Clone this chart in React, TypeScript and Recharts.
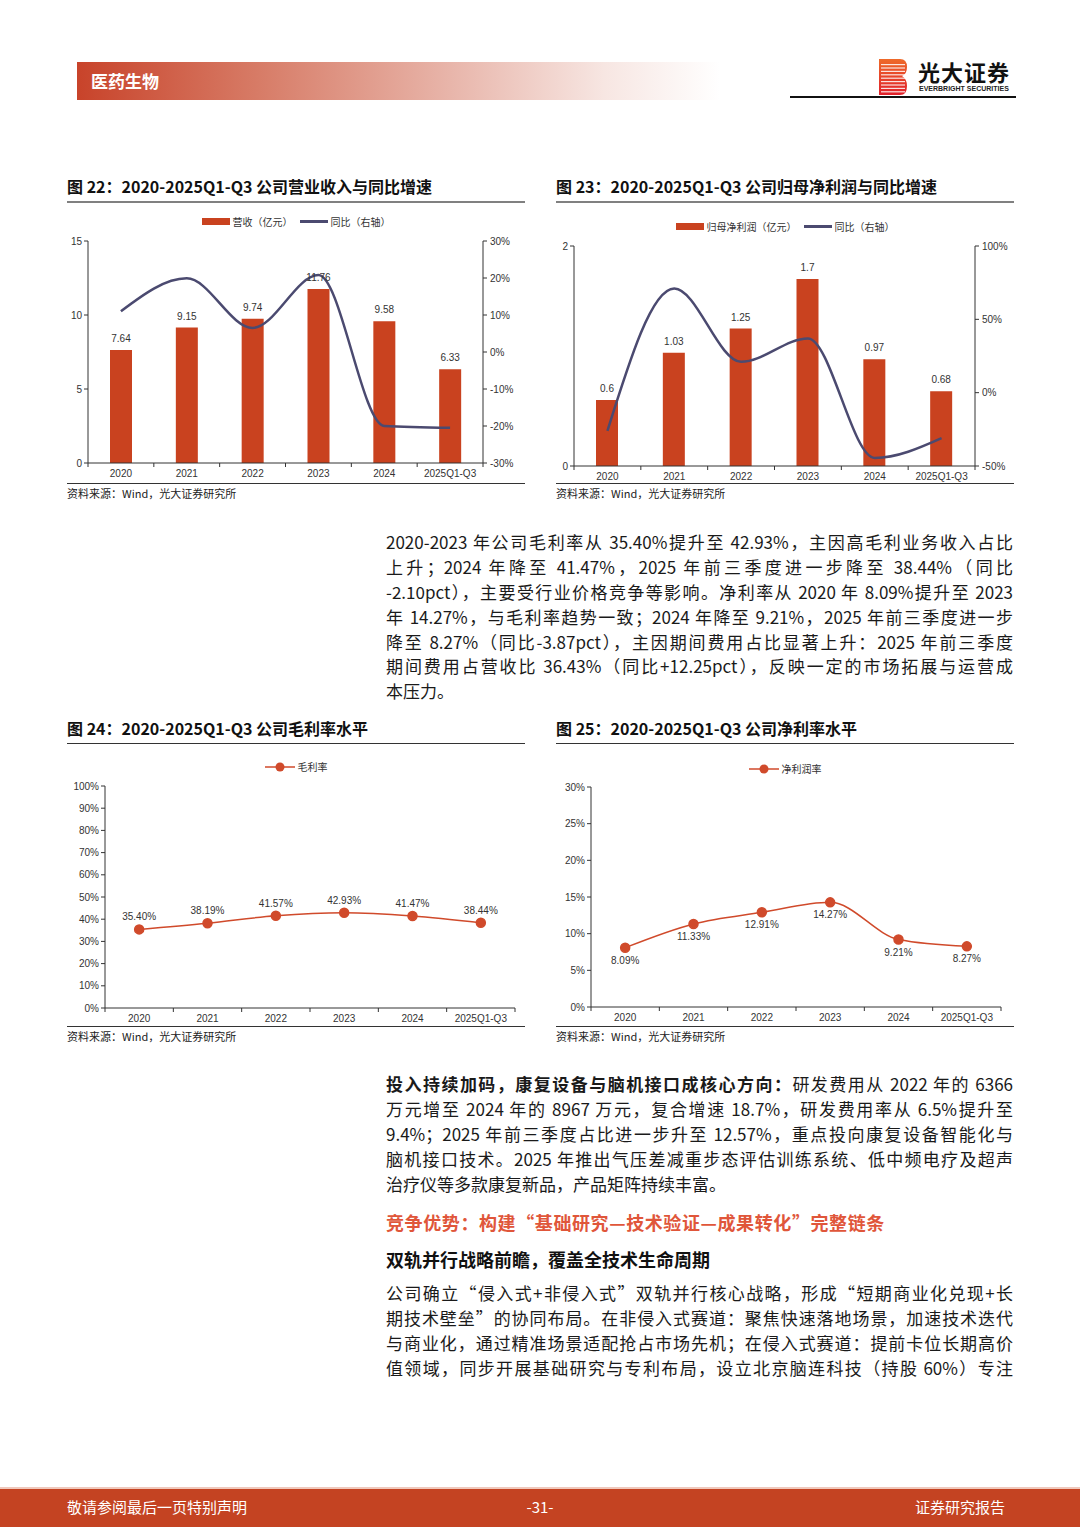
import React from "react";
import { ComposedChart, Bar, Line, XAxis, YAxis, LabelList } from "recharts";

// 数据
const years = ["2020", "2021", "2022", "2023", "2024", "2025Q1-Q3"];
const revenue = [7.64, 9.15, 9.74, 11.76, 9.58, 6.33];
const revenueYoy = [11.0, 19.9, 6.5, 20.8, -20.0, -20.5];
const netProfit = [0.6, 1.03, 1.25, 1.7, 0.97, 0.68];
const netProfitYoy = [-26.0, 71.0, 21.0, 37.0, -44.5, -31.0];
const grossMargin = [35.4, 38.19, 41.57, 42.93, 41.47, 38.44];
const netMargin = [8.09, 11.33, 12.91, 14.27, 9.21, 8.27];

const revenueTicks = [0, 5, 10, 15];
const revenueYoyTicks = [-30, -20, -10, 0, 10, 20, 30];
const profitTicks = [0, 2];
const profitYoyTicks = [-50, 0, 50, 100];
const grossTicks = [0, 10, 20, 30, 40, 50, 60, 70, 80, 90, 100];
const netTicks = [0, 5, 10, 15, 20, 25, 30];

const revenueData = years.map((year, i) => ({ year, value: revenue[i], yoy: revenueYoy[i] }));
const profitData = years.map((year, i) => ({ year, value: netProfit[i], yoy: netProfitYoy[i] }));
const grossData = years.map((year, i) => ({ year, value: grossMargin[i] }));
const netData = years.map((year, i) => ({ year, value: netMargin[i] }));

const RED = "#c9421f";
const LINE_RED = "#d04a2b";
const NAVY = "#4b4a70";
const CJK = '"Noto Sans CJK SC", "Noto Sans", sans-serif';
const CHART_FONT = '"Liberation Sans", Arial, "Noto Sans CJK SC", sans-serif';
const TICK_SIZE = 4;
const TICK_MARGIN = 3;

const tickStyle = { fontSize: 10, fill: "#333", fontFamily: CHART_FONT };
const pct = (v: number) => `${v}%`;

// 类目轴：刻度线画在类目边界上
function YearTick(props: any) {
  const { x, y, payload, index, visibleTicksCount } = props;
  const half = payload.offset || 0;
  const axisY = y - TICK_SIZE - TICK_MARGIN;
  return (
    <g>
      <line x1={x - half} x2={x - half} y1={axisY} y2={axisY + 4} stroke="#333" />
      {index === visibleTicksCount - 1 && (
        <line x1={x + half} x2={x + half} y1={axisY} y2={axisY + 4} stroke="#333" />
      )}
      <text x={x} y={y} dy="0.71em" textAnchor="middle" {...tickStyle}>
        {payload.value}
      </text>
    </g>
  );
}

function xAxis() {
  return (
    <XAxis
      dataKey="year"
      scale="band"
      height={20}
      tickLine={false}
      tickSize={TICK_SIZE}
      tickMargin={TICK_MARGIN}
      axisLine={{ stroke: "#333" }}
      tick={<YearTick />}
      interval={0}
    />
  );
}

function BarLegend({ label }: { label: string }) {
  return (
    <div style={{ display: "flex", alignItems: "center", justifyContent: "center", gap: 3, fontSize: 10, color: "#333", fontFamily: CJK }}>
      <span style={{ width: 28, height: 7, background: RED, display: "inline-block" }} />
      <span>{label}</span>
      <span style={{ width: 28, height: 3, background: NAVY, display: "inline-block", marginLeft: 4 }} />
      <span>同比（右轴）</span>
    </div>
  );
}

function DotLegend({ label }: { label: string }) {
  return (
    <div style={{ display: "flex", alignItems: "center", justifyContent: "center", gap: 3, fontSize: 10, color: "#333", fontFamily: CJK }}>
      <svg width={30} height={10}>
        <line x1={0} x2={30} y1={5} y2={5} stroke={LINE_RED} strokeWidth={1.5} />
        <circle cx={15} cy={5} r={4.5} fill={LINE_RED} />
      </svg>
      <span>{label}</span>
    </div>
  );
}

function Title({ left, top, text, thick }: { left: number; top: number; text: string; thick?: boolean }) {
  return (
    <>
      <div style={{ position: "absolute", left, top, fontSize: 16, fontWeight: 700, color: "#111", fontFamily: CJK, whiteSpace: "nowrap", lineHeight: "20px" }}>
        {text}
      </div>
      <div style={{ position: "absolute", left, top: top + 25, width: 458, height: thick ? 2 : 1, background: thick ? "#808080" : "#333" }} />
    </>
  );
}

function Source({ left, top }: { left: number; top: number }) {
  return (
    <>
      <div style={{ position: "absolute", left, top, width: 458, height: 1, background: "#333" }} />
      <div style={{ position: "absolute", left, top: top + 2, fontSize: 11, color: "#222", fontFamily: CJK, lineHeight: "16px" }}>
        资料来源：Wind，光大证券研究所
      </div>
    </>
  );
}

function Paragraph({ top, lines, lastFree = true }: { top: number; lines: React.ReactNode[]; lastFree?: boolean }) {
  return (
    <div style={{ position: "absolute", left: 386, top, width: 627, fontSize: 17, color: "#1a1a1a", fontFamily: CJK }}>
      {lines.map((ln, i) => (
        <div
          key={i}
          style={{
            height: 24.9,
            lineHeight: "24.9px",
            whiteSpace: "nowrap",
            textAlign: "justify",
            textAlignLast: lastFree && i === lines.length - 1 ? "left" : "justify",
          }}
        >
          {ln}
        </div>
      ))}
    </div>
  );
}

const para1 = [
  "2020-2023 年公司毛利率从 35.40%提升至 42.93%，主因高毛利业务收入占比",
  "上升；2024  年降至  41.47%，2025  年前三季度进一步降至  38.44%（同比",
  "-2.10pct），主要受行业价格竞争等影响。净利率从 2020 年 8.09%提升至 2023",
  "年 14.27%，与毛利率趋势一致；2024 年降至 9.21%，2025 年前三季度进一步",
  "降至 8.27%（同比-3.87pct），主因期间费用占比显著上升：2025 年前三季度",
  "期间费用占营收比  36.43%（同比+12.25pct），反映一定的市场拓展与运营成",
  "本压力。",
];

const para2 = [
  <>
    <b>投入持续加码，康复设备与脑机接口成核心方向：</b>研发费用从 2022 年的 6366
  </>,
  "万元增至 2024 年的 8967 万元，复合增速 18.7%，研发费用率从 6.5%提升至",
  "9.4%；2025 年前三季度占比进一步升至 12.57%，重点投向康复设备智能化与",
  "脑机接口技术。2025 年推出气压差减重步态评估训练系统、低中频电疗及超声",
  "治疗仪等多款康复新品，产品矩阵持续丰富。",
];

const para3 = [
  "公司确立“侵入式+非侵入式”双轨并行核心战略，形成“短期商业化兑现+长",
  "期技术壁垒”的协同布局。在非侵入式赛道：聚焦快速落地场景，加速技术迭代",
  "与商业化，通过精准场景适配抢占市场先机；在侵入式赛道：提前卡位长期高价",
  "值领域，同步开展基础研究与专利布局，设立北京脑连科技（持股  60%）专注",
];

function Logo() {
  const stripes = [];
  for (let i = 0; i < 9; i++) {
    stripes.push(<rect key={i} x={3} y={6 + i * 3.4} width={24} height={1.2} fill="#fff" opacity={0.85} />);
  }
  return (
    <>
      <svg style={{ position: "absolute", left: 878, top: 58 }} width={30} height={38}>
        <defs>
          <linearGradient id="lg" x1="0" y1="0" x2="0" y2="1">
            <stop offset="0" stopColor="#ee6a2a" />
            <stop offset="1" stopColor="#e01f2a" />
          </linearGradient>
        </defs>
        <path d="M1 1 H22 Q29 1 29 9 Q29 16 24 18 Q29 21 29 28 Q29 37 22 37 H1 Z" fill="url(#lg)" />
        {stripes}
      </svg>
      <div style={{ position: "absolute", left: 918, top: 58, fontSize: 22, fontWeight: 700, color: "#111", fontFamily: CJK, lineHeight: "27px", letterSpacing: 1 }}>
        光大证券
      </div>
      <div style={{ position: "absolute", left: 919, top: 85, fontSize: 7, fontWeight: 700, color: "#222", fontFamily: CHART_FONT, lineHeight: "8px" }}>
        EVERBRIGHT SECURITIES
      </div>
      <div style={{ position: "absolute", left: 790, top: 96, width: 226, height: 1.5, background: "#111" }} />
    </>
  );
}

const marginLabel = (v: any) => `${Number(v).toFixed(2)}%`;
const labelStyle = { fontSize: 10, fill: "#333", fontFamily: CHART_FONT };
const axisProps = { tick: tickStyle, tickSize: TICK_SIZE, axisLine: { stroke: "#333" }, tickLine: { stroke: "#333" } };

export default function App() {
  return (
    <div style={{ position: "absolute", left: 0, top: 0, width: 1080, height: 1527, background: "#fff", overflow: "hidden", fontFamily: CJK }}>
      {/* 页眉 */}
      <div
        style={{
          position: "absolute",
          left: 77,
          top: 62,
          width: 643,
          height: 38,
          background: "linear-gradient(to right, #c8432a 0%, #d77b66 28%, #e8b5aa 58%, #f7e6e2 82%, #ffffff 100%)",
        }}
      />
      <div style={{ position: "absolute", left: 91, top: 69, fontSize: 17, fontWeight: 700, color: "#fff", lineHeight: "24px" }}>医药生物</div>
      <Logo />

      {/* 图 22 */}
      <Title left={67} top={176} text="图 22：2020-2025Q1-Q3 公司营业收入与同比增速" thick />
      <div style={{ position: "absolute", left: 67, top: 214, width: 458 }}>
        <BarLegend label="营收（亿元）" />
      </div>
      <div style={{ position: "absolute", left: 67, top: 205 }}>
        <ComposedChart width={458} height={278} data={revenueData} margin={{ top: 36, right: 0, left: 0, bottom: 0 }}>
          {xAxis()}
          <YAxis yAxisId="left" width={21} domain={[0, 15]} ticks={revenueTicks} tickMargin={2} {...axisProps} />
          <YAxis yAxisId="right" orientation="right" width={42} domain={[-30, 30]} ticks={revenueYoyTicks} tickFormatter={pct} tickMargin={3} {...axisProps} />
          <Bar yAxisId="left" dataKey="value" fill={RED} barSize={22} isAnimationActive={false}>
            <LabelList dataKey="value" position="top" offset={8} style={labelStyle} />
          </Bar>
          <Line yAxisId="right" type="monotone" dataKey="yoy" stroke={NAVY} strokeWidth={2.5} dot={false} isAnimationActive={false} />
        </ComposedChart>
      </div>
      <Source left={67} top={483} />

      {/* 图 23 */}
      <Title left={556} top={176} text="图 23：2020-2025Q1-Q3 公司归母净利润与同比增速" thick />
      <div style={{ position: "absolute", left: 556, top: 219, width: 458 }}>
        <BarLegend label="归母净利润（亿元）" />
      </div>
      <div style={{ position: "absolute", left: 556, top: 205 }}>
        <ComposedChart width={458} height={281} data={profitData} margin={{ top: 41, right: 0, left: 0, bottom: 0 }}>
          {xAxis()}
          <YAxis yAxisId="left" width={18} domain={[0, 2]} ticks={profitTicks} tickMargin={2} {...axisProps} />
          <YAxis yAxisId="right" orientation="right" width={39} domain={[-50, 100]} ticks={profitYoyTicks} tickFormatter={pct} tickMargin={3} {...axisProps} />
          <Bar yAxisId="left" dataKey="value" fill={RED} barSize={22} isAnimationActive={false}>
            <LabelList dataKey="value" position="top" offset={8} style={labelStyle} />
          </Bar>
          <Line yAxisId="right" type="monotone" dataKey="yoy" stroke={NAVY} strokeWidth={2.5} dot={false} isAnimationActive={false} />
        </ComposedChart>
      </div>
      <Source left={556} top={483} />

      <Paragraph top={530} lines={para1} />

      {/* 图 24 */}
      <Title left={67} top={718} text="图 24：2020-2025Q1-Q3 公司毛利率水平" />
      <div style={{ position: "absolute", left: 67, top: 759, width: 458 }}>
        <DotLegend label="毛利率" />
      </div>
      <div style={{ position: "absolute", left: 67, top: 750 }}>
        <ComposedChart width={458} height={278} data={grossData} margin={{ top: 36, right: 10, left: 0, bottom: 0 }}>
          {xAxis()}
          <YAxis width={38} domain={[0, 100]} ticks={grossTicks} tickFormatter={pct} tickMargin={2} {...axisProps} />
          <Line type="monotone" dataKey="value" stroke={LINE_RED} strokeWidth={1.5} dot={{ r: 4.5, fill: LINE_RED, stroke: LINE_RED }} isAnimationActive={false}>
            <LabelList dataKey="value" position="top" offset={9} formatter={marginLabel} style={labelStyle} />
          </Line>
        </ComposedChart>
      </div>
      <Source left={67} top={1026} />

      {/* 图 25 */}
      <Title left={556} top={718} text="图 25：2020-2025Q1-Q3 公司净利率水平" />
      <div style={{ position: "absolute", left: 556, top: 761, width: 458 }}>
        <DotLegend label="净利润率" />
      </div>
      <div style={{ position: "absolute", left: 556, top: 750 }}>
        <ComposedChart width={458} height={277} data={netData} margin={{ top: 37, right: 13, left: 0, bottom: 0 }}>
          {xAxis()}
          <YAxis width={35} domain={[0, 30]} ticks={netTicks} tickFormatter={pct} tickMargin={2} {...axisProps} />
          <Line type="monotone" dataKey="value" stroke={LINE_RED} strokeWidth={1.5} dot={{ r: 4.5, fill: LINE_RED, stroke: LINE_RED }} isAnimationActive={false}>
            <LabelList dataKey="value" position="bottom" offset={9} formatter={marginLabel} style={labelStyle} />
          </Line>
        </ComposedChart>
      </div>
      <Source left={556} top={1026} />

      <Paragraph top={1072} lines={para2} />
      <div style={{ position: "absolute", left: 386, top: 1209, fontSize: 18, fontWeight: 700, color: "#e0563a", lineHeight: "26px", letterSpacing: 0.6 }}>
        竞争优势：构建“基础研究—技术验证—成果转化”完整链条
      </div>
      <div style={{ position: "absolute", left: 386, top: 1246, fontSize: 18, fontWeight: 700, color: "#111", lineHeight: "26px" }}>
        双轨并行战略前瞻，覆盖全技术生命周期
      </div>
      <Paragraph top={1281} lines={para3} lastFree={false} />

      {/* 页脚 */}
      <div style={{ position: "absolute", left: 0, top: 1487, width: 1080, height: 2, background: "#f0c8bc" }} />
      <div style={{ position: "absolute", left: 0, top: 1489, width: 1080, height: 38, background: "#c44322" }} />
      <div style={{ position: "absolute", left: 67, top: 1496, fontSize: 15, color: "#fff", lineHeight: "22px" }}>敬请参阅最后一页特别声明</div>
      <div style={{ position: "absolute", left: 0, width: 1080, textAlign: "center", top: 1496, fontSize: 15, color: "#fff", lineHeight: "22px" }}>-31-</div>
      <div style={{ position: "absolute", right: 75, top: 1496, fontSize: 15, color: "#fff", lineHeight: "22px" }}>证券研究报告</div>
    </div>
  );
}
